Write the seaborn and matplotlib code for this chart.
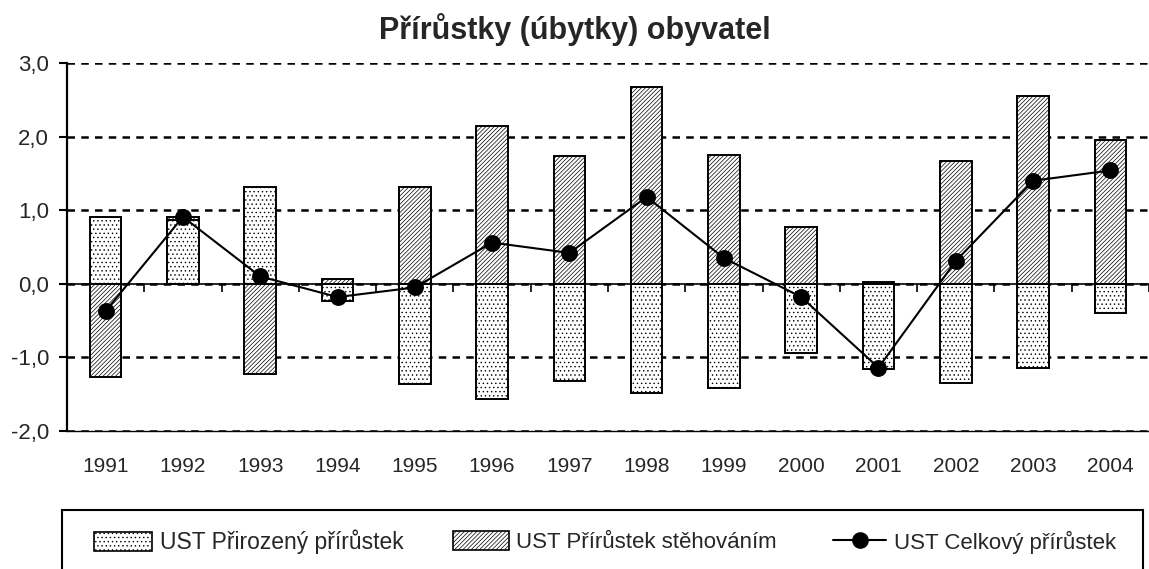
import numpy as np
import pandas as pd
import seaborn as sns
import matplotlib.pyplot as plt
from matplotlib.patches import Patch, Rectangle
from matplotlib.lines import Line2D

# data
years = [str(y) for y in range(1991, 2005)]
natural = [0.91, 0.87, 1.32, -0.24, -1.36, -1.57, -1.32, -1.49, -1.41, -0.94, -1.16, -1.35, -1.14, -0.40]
migration = [-1.27, 0.04, -1.22, 0.06, 1.32, 2.14, 1.73, 2.67, 1.75, 0.77, 0.02, 1.67, 2.55, 1.95]
total = [-0.37, 0.91, 0.10, -0.18, -0.05, 0.56, 0.42, 1.18, 0.35, -0.18, -1.14, 0.31, 1.40, 1.54]
yticks = [-2, -1, 0, 1, 2, 3]
ytick_labels = ['-2,0', '-1,0', '0,0', '1,0', '2,0', '3,0']
series_names = ['UST Přirozený přírůstek', 'UST Přírůstek stěhováním', 'UST Celkový přírůstek']
title = 'Přírůstky (úbytky) obyvatel'

sns.set_theme(style="white")
plt.rcParams['font.family'] = ['Liberation Sans', 'DejaVu Sans']
plt.rcParams['hatch.linewidth'] = 0.5

df = pd.DataFrame({'year': years, 'natural': natural, 'migration': migration, 'total': total})
# excel-like stacking: same sign stacks on top of the first series
same = np.sign(df['natural']) == np.sign(df['migration'])
df['mig_base'] = np.where(same, df['natural'], 0.0)

W, H = 1149, 569
fig = plt.figure(figsize=(W / 100, H / 100), dpi=100)
ax = fig.add_axes([67 / W, 1 - 431 / H, (W - 67) / W, (431 - 63) / H])

dots = '....'
stripes = '////////'
sns.barplot(data=df, x='year', y='natural', ax=ax, width=0.41, color='white',
            saturation=1, edgecolor='black', linewidth=1.4, hatch=dots, errorbar=None)
sns.barplot(data=df, x='year', y='migration', ax=ax, width=0.41, color='white',
            saturation=1, edgecolor='black', linewidth=1.4, hatch=stripes, errorbar=None,
            bottom=df['mig_base'].to_numpy())
sns.pointplot(data=df, x='year', y='total', ax=ax, color='black', markers='o',
              markersize=11, linewidth=1.5, errorbar=None)

ax.set_xlim(-0.5, 13.4)
ax.set_ylim(-2, 3)
ax.set_axisbelow(True)
ax.yaxis.grid(True, color='black', linestyle=(0, (3, 2.5)), linewidth=1.8)

ax.spines['right'].set_visible(False)
ax.spines['left'].set_linewidth(1.6)
ax.spines['left'].set_color('black')
ax.spines['bottom'].set_linewidth(1.0)
ax.spines['bottom'].set_color('black')
ax.spines['top'].set_position(('data', 0))
ax.spines['top'].set_linewidth(1.2)
ax.spines['top'].set_color('black')

ax.set_yticks(yticks, ytick_labels)
ax.tick_params(axis='y', left=True, direction='out', length=6, width=1.5, pad=7,
               labelsize=16, color='black')
ax.set_xticks(np.arange(len(years) + 1) - 0.5, minor=True)
ax.tick_params(axis='x', which='major', bottom=True, top=False, length=0, pad=19, labelsize=15)
ax.tick_params(axis='x', which='minor', bottom=False, top=True, direction='in',
               length=6, width=1.2, color='black')
ax.set_xlabel('')
ax.set_ylabel('')

fig.text(0.5, 1 - 30 / H, title, ha='center', va='center', fontsize=22, fontweight='bold')

# legend
h1 = Patch(facecolor='white', edgecolor='black', hatch=dots, linewidth=1.2)
h2 = Patch(facecolor='white', edgecolor='black', hatch=stripes, linewidth=1.2)
h3 = Line2D([], [], color='black', marker='o', markersize=11, linewidth=1.5)
for h, name, x0, hl, fs in [(h1, series_names[0], 83, 2.5, 16.5), (h2, series_names[1], 442, 2.5, 16),
                            (h3, series_names[2], 822, 2.4, 16)]:
    fig.legend([h], [name], loc='center left', bbox_to_anchor=(x0 / W, 1 - 542 / H),
               frameon=False, borderpad=0, handlelength=hl, handleheight=0.9,
               handletextpad=0.35, fontsize=fs)

fig.add_artist(Rectangle((62 / W, -0.05), (1143 - 62) / W, (1 - 510 / H) + 0.05,
                         transform=fig.transFigure, fill=False, edgecolor='black',
                         linewidth=1.5, clip_on=False))

fig.savefig('out.png', dpi=100)
